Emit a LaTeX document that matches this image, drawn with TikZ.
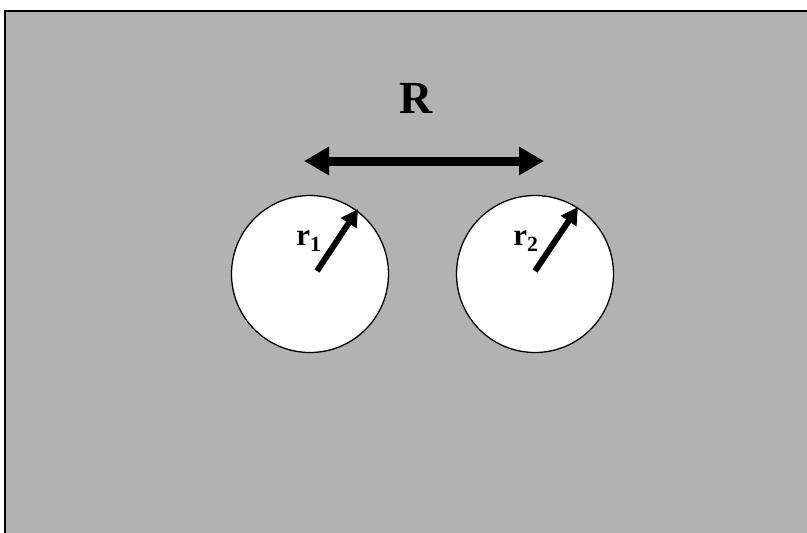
\documentclass[tikz,border=0pt]{standalone}
\usepackage{fontspec}
\setmainfont{Liberation Serif}
\usetikzlibrary{arrows.meta}
\definecolor{bggray}{RGB}{178,178,178}
\tikzset{
  hole/.style={circle, draw=black, line width=1.3pt, fill=white, minimum size=157pt, inner sep=0pt},
  radarrow/.style={line width=6pt, -{Triangle[length=17pt,width=18pt]}},
  bigarrow/.style={line width=9pt, {Triangle[length=25pt,width=27pt]}-{Triangle[length=25pt,width=27pt]}},
  lbl/.style={inner sep=0pt}
}
\begin{document}
\begin{tikzpicture}[x=1pt,y=-1pt]
\useasboundingbox (0,0) rectangle (807,533);
\fill[white] (0,0) rectangle (807,533);
\fill[bggray] (5,11) rectangle (807,533);
\draw[line width=1.5pt] (5,533) -- (5,11) -- (807,11);
\node[hole] (c1) at (310,274) {};
\node[hole] (c2) at (535,274) {};
\coordinate (a1) at (317,271);
\coordinate (b1) at (358,209);
\coordinate (a2) at (535,271);
\coordinate (b2) at (578,207);
\draw[radarrow] (a1) -- (b1);
\draw[radarrow] (a2) -- (b2);
\coordinate (L) at (304,161);
\coordinate (Rr) at (544,161);
\draw[bigarrow] (L) -- (Rr);
\node[lbl, font=\fontsize{46}{46}\selectfont\bfseries] (R) at (416,98) {R};
\node[lbl, font=\fontsize{31}{31}\selectfont\bfseries] (r1) at (309,241) {r\textsubscript{1}};
\node[lbl, font=\fontsize{31}{31}\selectfont\bfseries] (r2) at (526,241) {r\textsubscript{2}};
\end{tikzpicture}
\end{document}
